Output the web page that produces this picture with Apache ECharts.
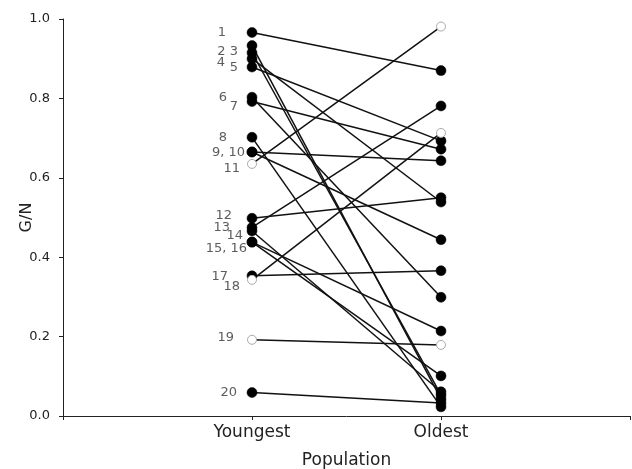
<!DOCTYPE html>
<html>
<head>
<meta charset="utf-8">
<script src="https://cdn.jsdelivr.net/npm/echarts@6/dist/echarts.min.js"></script>
<style>html,body{margin:0;padding:0;background:#fff;}#c{width:632px;height:469px;}</style>
</head>
<body>
<div id="c"></div>
<script>
// ---- data ----
const categories = ['Youngest', 'Oldest'];
const ids = ['1','2','3','4','5','6','7','8','9','10','11','12','13','14','15','16','17','18','19','20'];
const youngest = [0.966,0.933,0.915,0.900,0.879,0.803,0.792,0.702,0.665,0.665,0.635,0.498,0.475,0.466,0.438,0.438,0.353,0.343,0.192,0.059];
const oldest   = [0.870,0.043,0.053,0.539,0.693,0.299,0.672,0.023,0.643,0.444,0.981,0.550,0.781,0.061,0.214,0.101,0.366,0.713,0.179,0.033];
const openMarker = [false,false,false,false,false,false,false,false,false,false,true,false,false,false,false,false,false,true,true,false];
const labelTexts  = ['1','2 3','4','5','6','7','8','9, 10','11','12','13','14','15, 16','17','18','19','20'];
const labelAnchor = [0,1,3,4,5,6,7,8,10,11,12,13,14,16,17,18,19]; // index into youngest
const yTicks = [0, 0.2, 0.4, 0.6, 0.8, 1.0];

// ---- layout / style ----
const FONT = 'DejaVu Sans, Liberation Sans, Arial, sans-serif';
const labelOffsets = [[-26,0],[-14,6],[-27,4],[-14,1],[-25,0],[-14,5],[-25,0],[-7,1],[-12,5],[-20,-3],[-22,0],[-9,5],[-5,7],[-24,1],[-12,7],[-18,-2],[-15,0]];
const xPos = {Youngest: 1, Oldest: 2};

const lineSeries = ids.map((id, i) => ({
  type: 'line',
  name: id,
  data: [[xPos[categories[0]], youngest[i]], [xPos[categories[1]], oldest[i]]],
  symbol: 'none',
  lineStyle: {color: '#111', width: 1.5},
  silent: true,
  z: 2
}));

const filled = [], open = [];
ids.forEach((id, i) => {
  const arr = openMarker[i] ? open : filled;
  arr.push([1, youngest[i]]);
  arr.push([2, oldest[i]]);
});

const labelSeries = {
  type: 'scatter',
  symbolSize: 0,
  z: 5,
  data: labelTexts.map((t, k) => ({
    value: [1, youngest[labelAnchor[k]]],
    label: {
      show: true, formatter: t, position: 'left', distance: 0,
      offset: labelOffsets[k], align: 'right', verticalAlign: 'middle',
      fontSize: 13, color: '#333', fontFamily: FONT
    }
  }))
};

const chart = echarts.init(document.getElementById('c'), null, {renderer: 'canvas'});
chart.setOption({
  animation: false,
  backgroundColor: '#fff',
  grid: {left: 63, right: 2, top: 19, bottom: 53, containLabel: false, outerBoundsMode: 'none'},
  xAxis: {
    type: 'value', min: 0, max: 3, interval: 1,
    name: 'Population', nameLocation: 'middle', nameGap: 36, nameMoveOverlap: false,
    nameTextStyle: {fontSize: 17, color: '#222', fontFamily: FONT},
    axisLine: {lineStyle: {color: '#222', width: 1}},
    axisTick: {show: true, length: 4, lineStyle: {color: '#222'}},
    axisLabel: {
      margin: 8, fontSize: 17, color: '#222', fontFamily: FONT,
      formatter: v => (v === 1 ? categories[0] : v === 2 ? categories[1] : '')
    },
    splitLine: {show: false}
  },
  yAxis: {
    type: 'value', min: yTicks[0], max: yTicks[yTicks.length - 1], interval: 0.2,
    name: 'G/N', nameLocation: 'middle', nameGap: 28, nameRotate: 90, nameMoveOverlap: false,
    nameTextStyle: {fontSize: 16, color: '#222', fontFamily: FONT},
    axisLine: {show: true, lineStyle: {color: '#222', width: 1}},
    axisTick: {show: true, length: 4, lineStyle: {color: '#222'}},
    axisLabel: {margin: 13, fontSize: 13, color: '#222', fontFamily: FONT,
      formatter: v => v.toFixed(1)},
    splitLine: {show: false}
  },
  series: [
    ...lineSeries,
    {type: 'scatter', data: filled, symbol: 'circle', symbolSize: 10, z: 4,
      itemStyle: {color: '#000', borderColor: '#000', borderWidth: 0.5, opacity: 1}},
    {type: 'scatter', data: open, symbol: 'circle', symbolSize: 9, z: 4,
      itemStyle: {color: '#fff', borderColor: '#aaa', borderWidth: 1, opacity: 1}},
    labelSeries
  ]
});
</script>
</body>
</html>
